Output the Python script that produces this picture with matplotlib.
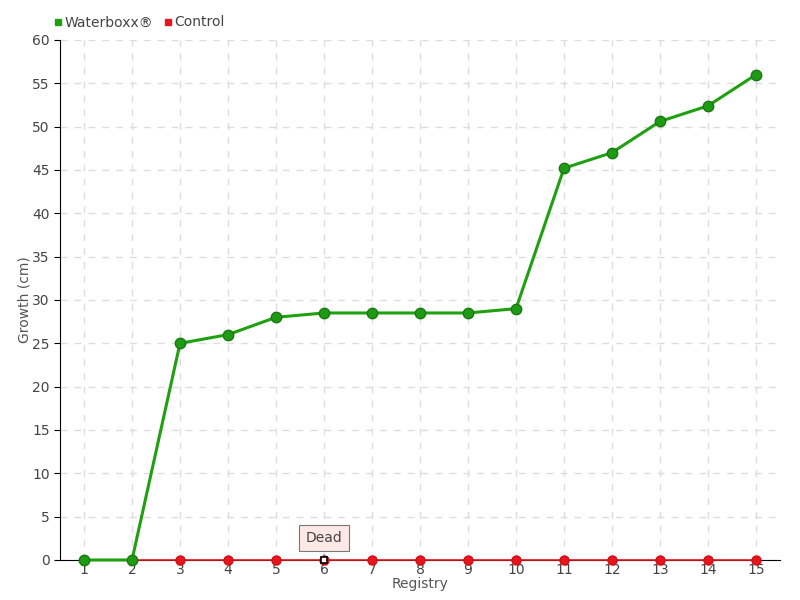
import matplotlib.pyplot as plt
import numpy as np

registry = list(range(1, 16))
waterboxx = [0, 0, 25, 26, 28, 28.5, 28.5, 28.5, 28.5, 29, 45.2, 47, 50.6, 52.4, 56]
control = [0] * 15
dead_idx = 5

plt.rcParams['font.family'] = ['DejaVu Sans']

fig = plt.figure(figsize=(8, 6), dpi=100)
ax = fig.add_axes([0.075, 0.0667, 0.9, 0.8667])

ax.plot(registry, control, color='#e8141e', lw=1.2, marker='o', ms=6.5,
        mfc='#e8141e', mec='#d01018', zorder=3, clip_on=False)
ax.plot(registry[dead_idx], control[dead_idx], marker='s', ms=5, mfc='white',
        mec='black', mew=1.2, zorder=5, clip_on=False)
ax.plot(registry, waterboxx, color='#1fa010', lw=2.2, marker='o', ms=7.5,
        mfc='#1f9a15', mec='#187a10', zorder=4, clip_on=False)

ax.annotate('Dead', xy=(registry[dead_idx], control[dead_idx]), xytext=(0, 16),
            textcoords='offset points', ha='center', va='center', fontsize=10,
            color='#444444',
            bbox=dict(boxstyle='square,pad=0.45', fc='#fde8e6', ec='#777777', lw=0.8),
            arrowprops=dict(arrowstyle='-', color='#777777', lw=0.8))

ax.set_xlim(0.5, 15.5)
ax.set_ylim(0, 60)
ax.set_xticks(registry)
ax.set_yticks(np.arange(0, 61, 5))
ax.grid(True, color='#dddddd', ls=(0, (5, 5)), lw=1)
ax.set_axisbelow(True)
for s in ['top', 'right']:
    ax.spines[s].set_visible(False)
ax.spines['left'].set_color('black')
ax.spines['bottom'].set_color('black')
ax.tick_params(axis='y', length=4, colors='black', labelcolor='#444444', labelsize=10)
ax.tick_params(axis='x', length=0, labelcolor='#444444', labelsize=10, pad=2)
ax.set_xlabel('Registry', color='#555555', fontsize=10, labelpad=0)
ax.set_ylabel('Growth (cm)', color='#555555', fontsize=10, labelpad=0)

h1 = plt.Line2D([], [], marker='s', ls='', color='#1fa010', ms=5)
h2 = plt.Line2D([], [], marker='s', ls='', color='#e8141e', ms=5)
fig.legend([h1, h2], ['Waterboxx®', 'Control'], loc='upper left',
           bbox_to_anchor=(0.05, 0.995), ncol=2, frameon=False, fontsize=10,
           handletextpad=0.1, columnspacing=0.6, handlelength=0.8,
           labelcolor='#444444')

fig.savefig('out.png', dpi=100)
